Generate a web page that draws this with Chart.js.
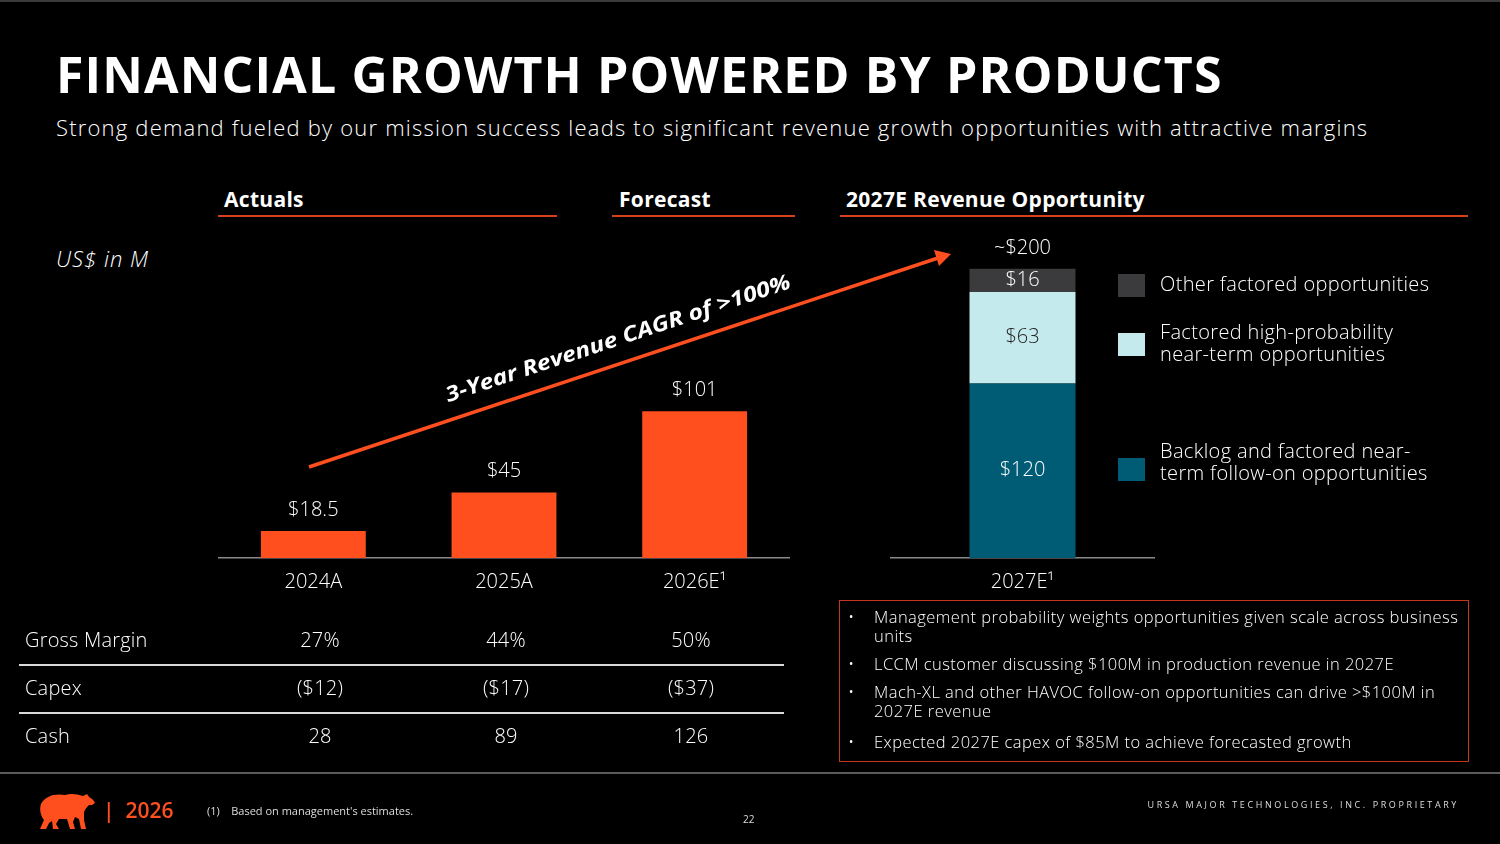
<!DOCTYPE html>
<html>
<head>
<meta charset="utf-8">
<script src="https://cdn.jsdelivr.net/npm/chart.js@4"></script>
<style>
  html, body { margin: 0; padding: 0; background: #000; }
  body { width: 1500px; height: 844px; position: relative; overflow: hidden; color: #fff;
         font-family: "Open Sans", "Noto Sans", sans-serif; border-top: 2px solid #3a3a3a; box-sizing: border-box; }
  .abs { position: absolute; white-space: nowrap; }
  .title { left: 56px; top: 44px; font-size: 50px; line-height: 56px; font-weight: 700; letter-spacing: 1.15px; }
  .subtitle { left: 56px; top: 111px; font-size: 22px; line-height: 28px; font-weight: 300; letter-spacing: 1.2px; }
  .hdr { font-size: 21px; line-height: 28px; font-weight: 700; top: 183px; letter-spacing: 0.3px; }
  .uline { position: absolute; height: 2px; background: #d8401d; top: 213px; }
  .unit { left: 56px; top: 242px; font-size: 22px; line-height: 28px; font-style: italic; font-weight: 300; letter-spacing: 1px; }
  .chartbox { position: absolute; }
  .legend { position: absolute; left: 1118px; top: 0; }
  .leg-sw { position: absolute; left: 0; width: 27px; height: 23px; }
  .leg-tx { position: absolute; left: 42px; font-size: 20px; line-height: 22px; white-space: nowrap; font-weight: 300; letter-spacing: 0.35px; }
  .trow { position: absolute; left: 0; width: 800px; font-size: 20px; line-height: 26px; font-weight: 300; letter-spacing: 0.2px; }
  .trow span { position: absolute; top: 0; }
  .tline { position: absolute; left: 19px; width: 765px; height: 2px; background: #d9d9d9; }
  .box { position: absolute; left: 839px; top: 598px; width: 628px; height: 160px; border: 1.5px solid #c8361e; }
  .box ul { margin: 0; padding: 6px 0 0 34px; list-style: none; }
  .box li { position: relative; font-size: 16.5px; line-height: 19px; font-weight: 300; margin-bottom: 9px; letter-spacing: 0.45px; white-space: nowrap; }
  .box li::before { content: "\2022"; position: absolute; left: -26px; }
  .footline { position: absolute; left: 0; top: 770px; width: 1500px; height: 2px; background: #5a5a5a; }
  .orange { color: #ff4f1f; }
</style>
</head>
<body>
<div class="abs title">FINANCIAL GROWTH POWERED BY PRODUCTS</div>
<div class="abs subtitle">Strong demand fueled by our mission success leads to significant revenue growth opportunities with attractive margins</div>

<div class="abs hdr" style="left:224px">Actuals</div>
<div class="uline" style="left:218px;width:339px"></div>
<div class="abs hdr" style="left:619px">Forecast</div>
<div class="uline" style="left:612px;width:183px"></div>
<div class="abs hdr" style="left:846px">2027E Revenue Opportunity</div>
<div class="uline" style="left:840px;width:628px"></div>

<div class="abs unit">US$ in M</div>

<div class="chartbox" style="left:218px;top:228px;width:572px;height:376px"><canvas id="revChart"></canvas></div>
<div class="chartbox" style="left:890px;top:228px;width:265px;height:376px"><canvas id="oppChart"></canvas></div>

<svg class="abs" style="left:0;top:0;pointer-events:none" width="1500" height="844">
  <line x1="309" y1="465" x2="938" y2="256" stroke="#ff4f1f" stroke-width="3.5"/>
  <polygon points="951,252 934,248 939,264" fill="#ff4f1f"/>
  <text x="0" y="0" transform="translate(620,343) rotate(-18.4)" text-anchor="middle"
        font-family="Open Sans" font-weight="700" font-style="italic" font-size="21" fill="#fff"
        textLength="362" lengthAdjust="spacingAndGlyphs">3-Year Revenue CAGR of &gt;100%</text>
</svg>

<div id="legend" class="legend"></div>

<div id="table"></div>

<div class="box">
  <ul>
    <li>Management probability weights opportunities given scale across business<br>units</li>
    <li>LCCM customer discussing $100M in production revenue in 2027E</li>
    <li>Mach-XL and other HAVOC follow-on opportunities can drive &gt;$100M in<br>2027E revenue</li>
    <li style="margin-top:12px">Expected 2027E capex of $85M to achieve forecasted growth</li>
  </ul>
</div>

<div class="footline"></div>
<svg class="abs" style="left:37px;top:788px" width="58" height="40" viewBox="0 0 58 40">
  <path fill="#ff4f1f" d="M4,14 C8,6 18,3 28,5 C34,3 40,4 46,6 L50,4 L52,7 C54,8 57,10 58,13 L55,15 L52,15 C50,17 48,19 47,22 L47,30 L49,39 L44,39 L42,29 L38,27 L36,32 L38,39 L33,39 L30,29 L22,29 L19,34 L22,39 L16,39 L15,31 L12,33 L9,39 L3,39 L7,30 C4,26 2,20 4,14 Z"/>
</svg>
<div class="abs orange" style="left:103px;top:794px;font-size:21px;line-height:28px;font-weight:600">|&nbsp; 2026</div>
<div class="abs" style="left:207px;top:801px;font-size:11px;line-height:16px;color:#ddd">(1)&nbsp;&nbsp;&nbsp; Based on management's estimates.</div>
<div class="abs" style="left:743px;top:810px;font-size:10px;line-height:14px;color:#ddd">22</div>
<div class="abs" style="right:41px;top:797px;font-size:9px;line-height:12px;letter-spacing:2.6px;color:#ddd">URSA MAJOR TECHNOLOGIES, INC. PROPRIETARY</div>

<script>
  // ---- Data ----
  const years        = ['2024A', '2025A', '2026E\u00B9'];
  const revenue      = [18.5, 45, 101];
  const oppYear      = ['2027E\u00B9'];
  const oppSeries    = ['Backlog and factored near-term follow-on opportunities',
                        'Factored high-probability near-term opportunities',
                        'Other factored opportunities'];
  const oppBacklog   = [120];
  const oppHighProb  = [63];
  const oppOther     = [16];
  const oppTotalText = '~$200';
  const rowNames     = ['Gross Margin', 'Capex', 'Cash'];
  const grossMargin  = [27, 44, 50];
  const capex        = [-12, -17, -37];
  const cash         = [28, 89, 126];

  const ORANGE = '#ff4f1f';
  const TEAL   = '#005c75';
  const LIGHT  = '#c5eaed';
  const DARK   = '#3b3b3d';
  const Y_MAX  = 205;

  Chart.defaults.font.family = '"Open Sans", sans-serif';
  Chart.defaults.color = '#fff';

  const money = v => '$' + v;

  // ---- Labels plugin ----
  const barLabels = {
    id: 'barLabels',
    afterDatasetsDraw(chart, args, opts) {
      const ctx = chart.ctx;
      ctx.save();
      ctx.font = '300 20px "Open Sans", sans-serif';
      ctx.textAlign = 'center';
      ctx.textBaseline = 'middle';
      chart.data.datasets.forEach((ds, i) => {
        const meta = chart.getDatasetMeta(i);
        meta.data.forEach((bar, j) => {
          const v = ds.data[j];
          if (opts.inside) {
            ctx.fillStyle = opts.inside[i];
            ctx.fillText(money(v), bar.x, (bar.y + bar.base) / 2);
          } else {
            ctx.fillStyle = '#fff';
            ctx.fillText(money(v), bar.x, bar.y - 21);
          }
        });
      });
      if (opts.total) {
        const meta = chart.getDatasetMeta(chart.data.datasets.length - 1);
        const bar = meta.data[0];
        ctx.fillStyle = '#fff';
        ctx.fillText(opts.total, bar.x, bar.y - 20);
      }
      ctx.restore();
    }
  };

  const xAxis = {
    grid: { display: false, drawTicks: false },
    border: { color: '#8a8a8a', width: 1.5 },
    ticks: { color: '#fff', padding: 12, font: { size: 20, weight: 300 } }
  };
  const yAxis = { display: false, min: 0, max: Y_MAX, stacked: true };

  new Chart(document.getElementById('revChart'), {
    type: 'bar',
    data: {
      labels: years,
      datasets: [{ data: revenue, backgroundColor: ORANGE, barPercentage: 0.55, categoryPercentage: 1 }]
    },
    options: {
      responsive: true,
      maintainAspectRatio: false,
      animation: false,
      layout: { padding: { top: 30 } },
      plugins: { legend: { display: false }, tooltip: { enabled: false }, barLabels: {} },
      scales: { x: xAxis, y: yAxis }
    },
    plugins: [barLabels]
  });

  new Chart(document.getElementById('oppChart'), {
    type: 'bar',
    data: {
      labels: oppYear,
      datasets: [
        { label: oppSeries[0], data: oppBacklog,  backgroundColor: TEAL },
        { label: oppSeries[1], data: oppHighProb, backgroundColor: LIGHT },
        { label: oppSeries[2], data: oppOther,    backgroundColor: DARK }
      ].map(d => Object.assign(d, { barPercentage: 0.4, categoryPercentage: 1 }))
    },
    options: {
      responsive: true,
      maintainAspectRatio: false,
      animation: false,
      layout: { padding: { top: 30 } },
      plugins: {
        legend: { display: false }, tooltip: { enabled: false },
        barLabels: { inside: ['#fff', '#222', '#fff'], total: oppTotalText }
      },
      scales: { x: Object.assign({}, xAxis, { stacked: true }), y: yAxis }
    },
    plugins: [barLabels]
  });

  // ---- Legend (top series first) ----
  const legendItems = [
    { text: 'Other factored opportunities', color: DARK, top: 272, textTop: 271 },
    { text: 'Factored high-probability<br>near-term opportunities', color: LIGHT, top: 331, textTop: 319 },
    { text: 'Backlog and factored near-<br>term follow-on opportunities', color: TEAL, top: 456, textTop: 438 }
  ];
  const legend = document.getElementById('legend');
  legendItems.forEach(it => {
    const sw = document.createElement('div');
    sw.className = 'leg-sw';
    sw.style.top = it.top + 'px';
    sw.style.background = it.color;
    legend.appendChild(sw);
    const tx = document.createElement('div');
    tx.className = 'leg-tx';
    tx.innerHTML = it.text;
    tx.style.top = it.textTop + 'px';
    legend.appendChild(tx);
  });

  // ---- Table ----
  const colX = [320, 506, 691];
  const rows = [
    grossMargin.map(v => v + '%'),
    capex.map(v => v < 0 ? '($' + (-v) + ')' : '$' + v),
    cash.map(v => String(v))
  ];
  const rowY = [625, 673, 721];
  const table = document.getElementById('table');
  rows.forEach((vals, r) => {
    const row = document.createElement('div');
    row.className = 'trow';
    row.style.top = rowY[r] + 'px';
    let html = '<span style="left:25px">' + rowNames[r] + '</span>';
    vals.forEach((v, c) => {
      html += '<span style="left:' + (colX[c] - 60) + 'px;width:120px;text-align:center">' + v + '</span>';
    });
    row.innerHTML = html;
    table.appendChild(row);
    if (r < rows.length - 1) {
      const ln = document.createElement('div');
      ln.className = 'tline';
      ln.style.top = (rowY[r] + 37) + 'px';
      table.appendChild(ln);
    }
  });
</script>
</body>
</html>
